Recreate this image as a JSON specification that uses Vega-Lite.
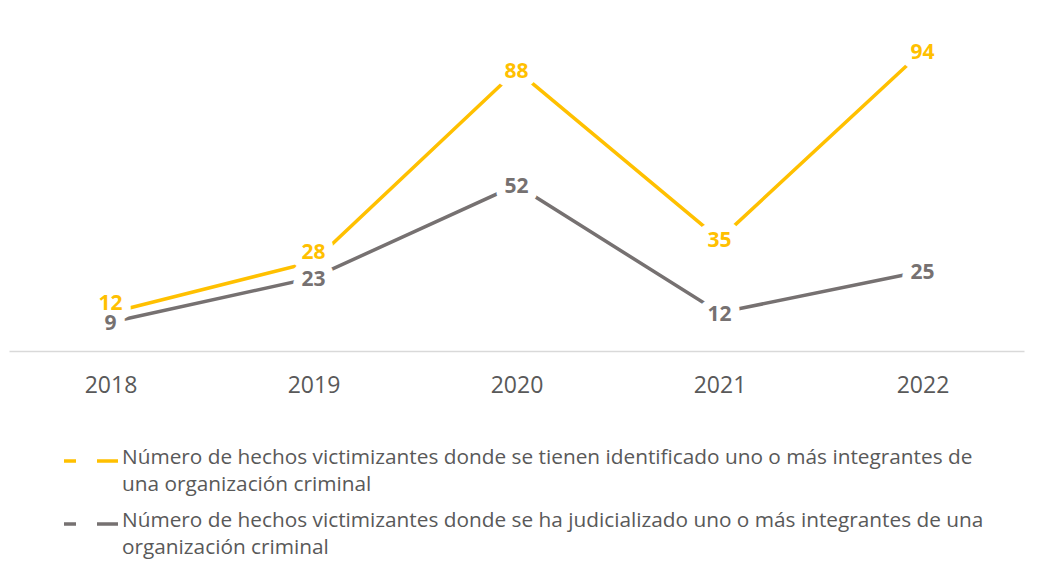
{
  "$schema": "https://vega.github.io/schema/vega-lite/v6.json",
  "width": 1015,
  "height": 351,
  "autosize": {"type": "none"},
  "padding": {"left": 9, "top": 0, "right": 18, "bottom": 230},
  "background": "white",
  "config": {
    "view": {"stroke": null},
    "font": "Open Sans"
  },
  "data": {
    "values": [
      {"year": "2018", "series": "identificado", "value": 12},
      {"year": "2019", "series": "identificado", "value": 28},
      {"year": "2020", "series": "identificado", "value": 88},
      {"year": "2021", "series": "identificado", "value": 35},
      {"year": "2022", "series": "identificado", "value": 94},
      {"year": "2018", "series": "judicializado", "value": 9},
      {"year": "2019", "series": "judicializado", "value": 23},
      {"year": "2020", "series": "judicializado", "value": 52},
      {"year": "2021", "series": "judicializado", "value": 12},
      {"year": "2022", "series": "judicializado", "value": 25}
    ]
  },
  "encoding": {
    "x": {
      "field": "year",
      "type": "ordinal",
      "scale": {"type": "point", "padding": 0.5},
      "axis": {
        "title": null,
        "labelAngle": 0,
        "ticks": false,
        "labelFontSize": 23,
        "labelColor": "#595959",
        "labelPadding": 23,
        "domainColor": "#D9D9D9",
        "domainWidth": 1.5,
        "grid": false
      }
    },
    "y": {
      "field": "value",
      "type": "quantitative",
      "scale": {"domain": [0, 110], "nice": false},
      "axis": null
    },
    "color": {
      "field": "series",
      "type": "nominal",
      "scale": {"domain": ["identificado", "judicializado"], "range": ["#FFC000", "#767171"]},
      "legend": {
        "title": null,
        "orient": "none",
        "legendX": 53,
        "legendY": 432,
        "padding": 0,
        "symbolType": "stroke",
        "symbolSize": 2916,
        "symbolStrokeWidth": 3.5,
        "symbolDash": [12, 21, 21, 40],
        "labelFontSize": 20.8,
        "labelColor": "#595959",
        "labelOffset": 2,
        "labelLimit": 1000,
        "labelBaseline": "top",
        "rowPadding": -11,
        "labelExpr": "datum.label == 'identificado' ? ['Número de hechos victimizantes donde se tienen identificado uno o más integrantes de', 'una organización criminal'] : ['Número de hechos victimizantes donde se ha judicializado uno o más integrantes de una', 'organización criminal']",
        "encode": {
          "labels": {"update": {"lineHeight": {"value": 26.5}, "dy": {"value": -13}}}
        }
      }
    }
  },
  "layer": [
    {
      "mark": {"type": "line", "strokeWidth": 3.5}
    },
    {
      "transform": [{"filter": "!(datum.series == 'identificado' && (datum.year == '2018' || datum.year == '2019'))"}],
      "mark": {
        "type": "text",
        "fontSize": 21,
        "fontWeight": "bold",
        "stroke": "white",
        "strokeWidth": 18,
        "strokeJoin": "round",
        "baseline": "middle",
        "dy": 2
      },
      "encoding": {"text": {"field": "value", "type": "quantitative"}, "color": {"value": "white"}}
    },
    {
      "transform": [{"filter": "datum.series == 'identificado' && (datum.year == '2018' || datum.year == '2019')"}],
      "mark": {
        "type": "text",
        "fontSize": 21,
        "fontWeight": "bold",
        "stroke": "white",
        "strokeWidth": 18,
        "strokeJoin": "round",
        "baseline": "middle",
        "dy": -9
      },
      "encoding": {"text": {"field": "value", "type": "quantitative"}, "color": {"value": "white"}}
    },
    {
      "transform": [{"filter": "!(datum.series == 'identificado' && (datum.year == '2018' || datum.year == '2019'))"}],
      "mark": {
        "type": "text",
        "fontSize": 21,
        "fontWeight": "bold",
        "baseline": "middle",
        "dy": 2
      },
      "encoding": {"text": {"field": "value", "type": "quantitative"}}
    },
    {
      "transform": [{"filter": "datum.series == 'identificado' && (datum.year == '2018' || datum.year == '2019')"}],
      "mark": {
        "type": "text",
        "fontSize": 21,
        "fontWeight": "bold",
        "baseline": "middle",
        "dy": -9
      },
      "encoding": {"text": {"field": "value", "type": "quantitative"}}
    }
  ]
}
